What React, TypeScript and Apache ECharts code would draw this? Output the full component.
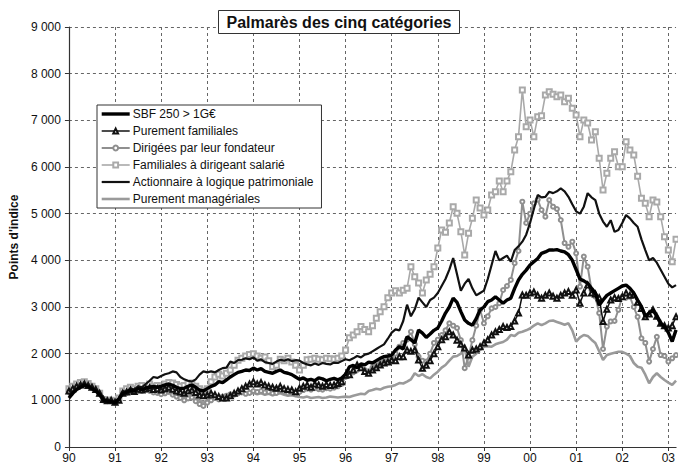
import React, { useEffect, useRef } from 'react';
import * as echarts from 'echarts';

const startYear = 1990;
const monthCount = 159;
const categories: string[] = [];
for (let i = 0; i < monthCount; i++) {
  const y = startYear + Math.floor(i / 12);
  const m = (i % 12) + 1;
  categories.push(`${y}-${String(m).padStart(2, '0')}`);
}

const seriesNames = [
  'SBF 250 > 1G€',
  'Purement familiales',
  'Dirigées par leur fondateur',
  'Familiales à dirigeant salarié',
  'Actionnaire à logique patrimoniale',
  'Purement managériales',
];

const sbf250 = [
  1050, 1150, 1230, 1280, 1330, 1300, 1250, 1200, 1120, 1000, 980, 970, 950,
  1020, 1150, 1170, 1220, 1200, 1250, 1230, 1260, 1280, 1300, 1280, 1300,
  1330, 1350, 1320, 1280, 1250, 1260, 1300, 1330, 1280, 1220, 1200, 1250,
  1300, 1330, 1400, 1380, 1440, 1500, 1550, 1600, 1620, 1650, 1640, 1690,
  1650, 1680, 1620, 1600, 1580, 1620, 1650, 1600, 1580, 1550, 1500, 1450,
  1480, 1430, 1450, 1420, 1480, 1460, 1420, 1450, 1470, 1440, 1480, 1560,
  1720, 1750, 1700, 1780, 1760, 1820, 1800, 1850, 1900, 1936, 1950, 1970,
  2080, 2150, 2100, 2364, 2300, 2230, 2507, 2440, 2350, 2420, 2500, 2550,
  2700, 2870, 3000, 3190, 3100, 2900, 2720, 2650, 2610, 2750, 2940, 3000,
  3114, 3150, 3220, 3150, 3080, 3150, 3190, 3400, 3580, 3700, 3790, 3900,
  3970, 4040, 4150, 4180, 4220, 4220, 4230, 4200, 4180, 4120, 4000, 3800,
  3600, 3560, 3510, 3400, 3300, 3040, 3150, 3250, 3300, 3350, 3400, 3450,
  3470, 3400, 3300, 3150, 3007, 2800, 2870, 2940, 2800, 2650, 2580, 2450, 2260, 2510,
];

const purementFamiliales = [
  1200, 1250, 1300, 1330, 1350, 1320, 1280, 1230, 1150, 1020, 990, 1000, 960,
  1000, 1150, 1180, 1220, 1190, 1240, 1220, 1250, 1270, 1230, 1250, 1220,
  1250, 1280, 1240, 1200, 1180, 1150, 1200, 1220, 1170, 1114, 1100, 1114,
  1150, 1120, 1080, 1050, 1050, 1100, 1150, 1200, 1250, 1300, 1350, 1400,
  1350, 1380, 1330, 1300, 1280, 1260, 1300, 1250, 1230, 1220, 1186, 1260,
  1300, 1330, 1280, 1350, 1330, 1300, 1340, 1320, 1330, 1360, 1400, 1540,
  1550, 1650, 1757, 1700, 1620, 1580, 1650, 1700, 1757, 1800, 1820, 1864,
  1850, 1936, 1936, 2080, 2050, 2080, 1864, 1686, 1750, 1850, 2000, 2150,
  2300, 2364, 2470, 2400, 2290, 2200, 2120, 1970, 2080, 2100, 2150, 2230,
  2300, 2400, 2470, 2520, 2580, 2560, 2580, 2700, 2870, 3257, 3250, 3300,
  3320, 3250, 3190, 3250, 3300, 3230, 3190, 3250, 3300, 3330, 3250, 3364,
  3080, 3300, 3470, 3300, 3280, 3200, 2690, 2950, 3150, 3200, 3180, 3220,
  3300, 3250, 3260, 3100, 2970, 2790, 2850, 2940, 2800, 2650, 2600, 2550, 2600, 2790,
];

const dirigeesFondateur = [
  1180, 1230, 1280, 1320, 1350, 1320, 1260, 1220, 1130, 1000, 980, 990, 950,
  1000, 1150, 1160, 1200, 1180, 1230, 1200, 1220, 1200, 1170, 1160, 1130,
  1150, 1180, 1120, 1080, 1050, 1000, 1040, 1060, 980, 920, 880, 950,
  1000, 1050, 1020, 1080, 1100, 1130, 1120, 1150, 1170, 1140, 1160, 1200,
  1180, 1200, 1170, 1180, 1150, 1160, 1200, 1180, 1150, 1170, 1130, 1180,
  1220, 1250, 1230, 1260, 1240, 1230, 1260, 1250, 1270, 1300, 1350, 1500,
  1550, 1600, 1650, 1700, 1650, 1620, 1700, 1750, 1800, 1830, 1870, 1930,
  2000, 2150, 2230, 2300, 2470, 2200, 1936, 1850, 1830, 2000, 2230, 2300,
  2400, 2500, 2650, 2600, 2550, 2290, 1690, 1936, 2290, 2600, 2940, 2650,
  2800, 2970, 3000, 3080, 3364, 3450, 3580, 3940, 4200, 5257, 4800, 5000,
  5220, 5300, 5079, 4936, 5293, 5150, 5100, 4864, 4370, 4290, 4400, 4150,
  3436, 4080, 3864, 3364, 3220, 2870, 2100, 2580, 2690, 2700, 2940, 3220,
  3200, 3220, 3000, 2790, 2330, 2230, 1830, 2100, 2360, 1970, 1950, 1830, 1900, 1970,
];

const familialesSalarie = [
  1250, 1300, 1350, 1380, 1400, 1360, 1300, 1250, 1150, 1020, 1000, 1000, 980,
  1050, 1200, 1250, 1280, 1250, 1300, 1320, 1280, 1350, 1300, 1320, 1280,
  1350, 1380, 1370, 1340, 1300, 1320, 1360, 1370, 1300, 1250, 1200, 1250,
  1400, 1500, 1560, 1520, 1580, 1650, 1750, 1860, 1900, 1950, 1980, 2000,
  1950, 1900, 1930, 1850, 1720, 1750, 1880, 1850, 1900, 1820, 1750, 1650,
  1750, 1870, 1880, 1900, 1880, 1870, 1900, 1890, 1880, 1900, 1950, 2080,
  2340, 2400, 2470, 2580, 2520, 2470, 2600, 2760, 2900, 3007, 3200, 3300,
  3350, 3300, 3360, 3400, 3864, 3650, 3514, 3300, 3580, 3700, 3864, 4264,
  4650, 4600, 4800, 5150, 5007, 4614, 4114, 4579, 4900, 5293, 5121, 4971,
  5079, 5400, 5471, 5700, 5471, 5700, 5900, 6364, 6650, 7650, 6864, 7007,
  6650, 7079, 7100, 7543, 7614, 7560, 7507, 7543, 7400, 7471, 7257, 7114,
  6650, 7007, 6943, 6579, 6757, 6186, 5507, 5864, 6186, 6329, 6007, 6007,
  6543, 6364, 6257, 5800, 5329, 5221, 4936, 5293, 5250, 4936, 4507, 4221, 3971, 4450,
];

const actionnairePatrimonial = [
  1100, 1180, 1250, 1300, 1340, 1320, 1260, 1220, 1150, 1020, 1000, 980, 960,
  1050, 1200, 1180, 1250, 1230, 1300, 1280, 1350, 1420, 1500, 1480, 1520,
  1560, 1580, 1620, 1600, 1500, 1450, 1420, 1400, 1450, 1550, 1620, 1600,
  1620, 1600, 1650, 1690, 1700, 1830, 1800, 1864, 1870, 1900, 1880, 1920,
  1850, 1880, 1820, 1800, 1780, 1830, 1870, 1850, 1880, 1840, 1860, 1850,
  1800, 1770, 1750, 1790, 1760, 1800, 1780, 1770, 1810, 1800, 1840, 1880,
  1860, 1900, 1950, 1920, 1980, 2000, 2050, 2100, 2150, 2200, 2320, 2450,
  2520, 2500, 2700, 3050, 2800, 2950, 3200, 3100, 3000, 3150, 3200, 3300,
  3450, 3600, 3800, 4050, 3700, 3350, 3500, 3600, 3400, 3250, 3300, 3350,
  3600, 3900, 4200, 4000, 4050, 4100, 3970, 4220, 4300, 4400, 4550, 4800,
  5100, 5400, 5350, 5360, 5470, 5440, 5480, 5540, 5480, 5360, 5200, 5050,
  5000, 5150, 5440, 5350, 5290, 5000, 4830, 4720, 4860, 4610, 4650, 4800,
  4970, 4900, 4800, 4720, 4450, 4220, 4000, 4050, 3950, 3800, 3650, 3500, 3420, 3470,
];

const purementManageriales = [
  1150, 1200, 1250, 1300, 1320, 1300, 1250, 1200, 1120, 1000, 980, 990, 950,
  1000, 1150, 1170, 1200, 1180, 1220, 1200, 1230, 1200, 1180, 1150, 1120,
  1150, 1170, 1130, 1100, 1080, 1050, 1080, 1100, 1050, 1000, 960, 1000,
  1050, 1080, 1050, 1100, 1120, 1150, 1130, 1160, 1180, 1150, 1140, 1160,
  1130, 1150, 1120, 1140, 1110, 1130, 1150, 1120, 1100, 1110, 1090, 1070,
  1060, 1080, 1050, 1060, 1070, 1050, 1060, 1080, 1070, 1060, 1070, 1080,
  1070, 1100, 1120, 1140, 1130, 1200, 1220, 1250, 1230, 1270, 1290, 1300,
  1330, 1370, 1360, 1400, 1450, 1580, 1520, 1560, 1500, 1470, 1550, 1614,
  1700, 1757, 1850, 1936, 1950, 2000, 2114, 1720, 1936, 2000, 2080, 2150,
  2160, 2150, 2200, 2230, 2250, 2300, 2400, 2380, 2450, 2470, 2500, 2540,
  2600, 2650, 2610, 2650, 2700, 2710, 2680, 2650, 2620, 2650, 2500, 2260,
  2350, 2400, 2380, 2300, 2230, 2050, 1864, 1970, 2000, 2020, 2040, 2040,
  2000, 1950, 1800, 1720, 1700, 1550, 1364, 1500, 1580, 1500, 1436, 1380, 1330, 1420,
];

const yTickLabels = ['0', '1 000', '2 000', '3 000', '4 000', '5 000', '6 000', '7 000', '8 000', '9 000'];

const FONT = '"Liberation Sans", Arial, Helvetica, sans-serif';

const hiddenMarker = { color: 'rgba(0,0,0,0)', borderColor: 'rgba(0,0,0,0)', borderWidth: 0, opacity: 0 };

export default function App() {
  const ref = useRef<HTMLDivElement>(null);

  useEffect(() => {
    if (!ref.current) return;
    const chart = echarts.init(ref.current, undefined, { renderer: 'svg' });
    const yearTick = (i: number) => i % 12 === 0;
    const option: any = {
      animation: false,
      backgroundColor: '#ffffff',
      textStyle: { fontFamily: FONT },
      title: {
        text: 'Palmarès des cinq catégories',
        left: 'center',
        top: 10,
        padding: [4, 8, 4, 8],
        backgroundColor: '#ffffff',
        borderColor: '#333',
        borderWidth: 1,
        textStyle: { fontSize: 16, fontWeight: 'bold', color: '#111', fontFamily: FONT },
      },
      legend: {
        orient: 'vertical',
        left: 97,
        top: 105,
        data: [
          { name: seriesNames[0], itemStyle: hiddenMarker, lineStyle: { width: 3.4, color: '#000' } },
          { name: seriesNames[1], lineStyle: { width: 1.5, color: '#111' } },
          { name: seriesNames[2], lineStyle: { width: 2, color: '#8f8f8f' } },
          { name: seriesNames[3], lineStyle: { width: 1.6, color: '#a9a9a9' } },
          { name: seriesNames[4], itemStyle: hiddenMarker, lineStyle: { width: 2.2, color: '#111' } },
          { name: seriesNames[5], itemStyle: hiddenMarker, lineStyle: { width: 2.6, color: '#9a9a9a' } },
        ],
        itemWidth: 28,
        itemHeight: 6,
        itemGap: 5,
        padding: [3, 8, 3, 3],
        backgroundColor: '#ffffff',
        borderColor: '#333',
        borderWidth: 1,
        textStyle: { fontSize: 12, color: '#111', fontFamily: FONT, padding: [0, 0, 0, -2] },
      },
      grid: { left: 67, right: 1, top: 27, bottom: 21 },
      xAxis: {
        type: 'category',
        data: categories,
        boundaryGap: false,
        axisLine: { lineStyle: { color: '#333', width: 1.2 } },
        axisTick: { show: true, interval: yearTick, length: 4, lineStyle: { color: '#333' } },
        axisLabel: {
          interval: yearTick,
          formatter: (v: string) => v.slice(2, 4),
          fontSize: 12,
          color: '#111',
          margin: 5,
          fontFamily: FONT,
        },
        splitLine: {
          show: true,
          interval: (i: number) => i % 12 === 0 && i > 0,
          lineStyle: { type: [3, 3], color: '#666', width: 1 },
        },
      },
      yAxis: {
        type: 'value',
        min: 0,
        max: 9000,
        interval: 1000,
        name: "Points d'indice",
        nameLocation: 'middle',
        nameGap: 46,
        nameTextStyle: { fontWeight: 'bold', fontSize: 12, color: '#111', fontFamily: FONT },
        axisLine: { show: true, lineStyle: { color: '#333', width: 1.2 } },
        axisTick: { show: true, length: 4, lineStyle: { color: '#333' } },
        axisLabel: {
          formatter: (v: number) => yTickLabels[Math.round(v / 1000)] ?? '',
          fontSize: 12,
          color: '#111',
          margin: 8,
          fontFamily: FONT,
        },
        splitLine: { show: true, lineStyle: { type: [3, 3], color: '#666', width: 1 } },
      },
      series: [
        {
          name: seriesNames[5],
          type: 'line',
          data: purementManageriales,
          showSymbol: false,
          symbol: 'none',
          lineStyle: { color: '#9a9a9a', width: 2.6 },
          itemStyle: { color: '#9a9a9a' },
          z: 2,
        },
        {
          name: seriesNames[3],
          type: 'line',
          data: familialesSalarie,
          symbol: 'emptyRect',
          symbolSize: 5,
          showAllSymbol: true,
          lineStyle: { color: '#a9a9a9', width: 1.6 },
          itemStyle: { color: '#a9a9a9', borderWidth: 1 },
          z: 3,
        },
        {
          name: seriesNames[2],
          type: 'line',
          data: dirigeesFondateur,
          symbol: 'emptyCircle',
          symbolSize: 4,
          showAllSymbol: true,
          lineStyle: { color: '#8f8f8f', width: 2 },
          itemStyle: { color: '#8f8f8f', borderWidth: 1 },
          z: 4,
        },
        {
          name: seriesNames[1],
          type: 'line',
          data: purementFamiliales,
          symbol: 'emptyTriangle',
          symbolSize: 5,
          showAllSymbol: true,
          lineStyle: { color: '#111', width: 1.5 },
          itemStyle: { color: '#111', borderWidth: 1 },
          z: 5,
        },
        {
          name: seriesNames[4],
          type: 'line',
          data: actionnairePatrimonial,
          showSymbol: false,
          symbol: 'none',
          lineStyle: { color: '#111', width: 2.2 },
          itemStyle: { color: '#111' },
          z: 6,
        },
        {
          name: seriesNames[0],
          type: 'line',
          data: sbf250,
          showSymbol: false,
          symbol: 'none',
          lineStyle: { color: '#000', width: 3.4 },
          itemStyle: { color: '#000' },
          z: 7,
        },
      ],
    };
    chart.setOption(option);
    return () => chart.dispose();
  }, []);

  return (
    <div
      ref={ref}
      style={{ position: 'fixed', left: 0, top: 0, width: 678, height: 468, background: '#fff' }}
    />
  );
}
